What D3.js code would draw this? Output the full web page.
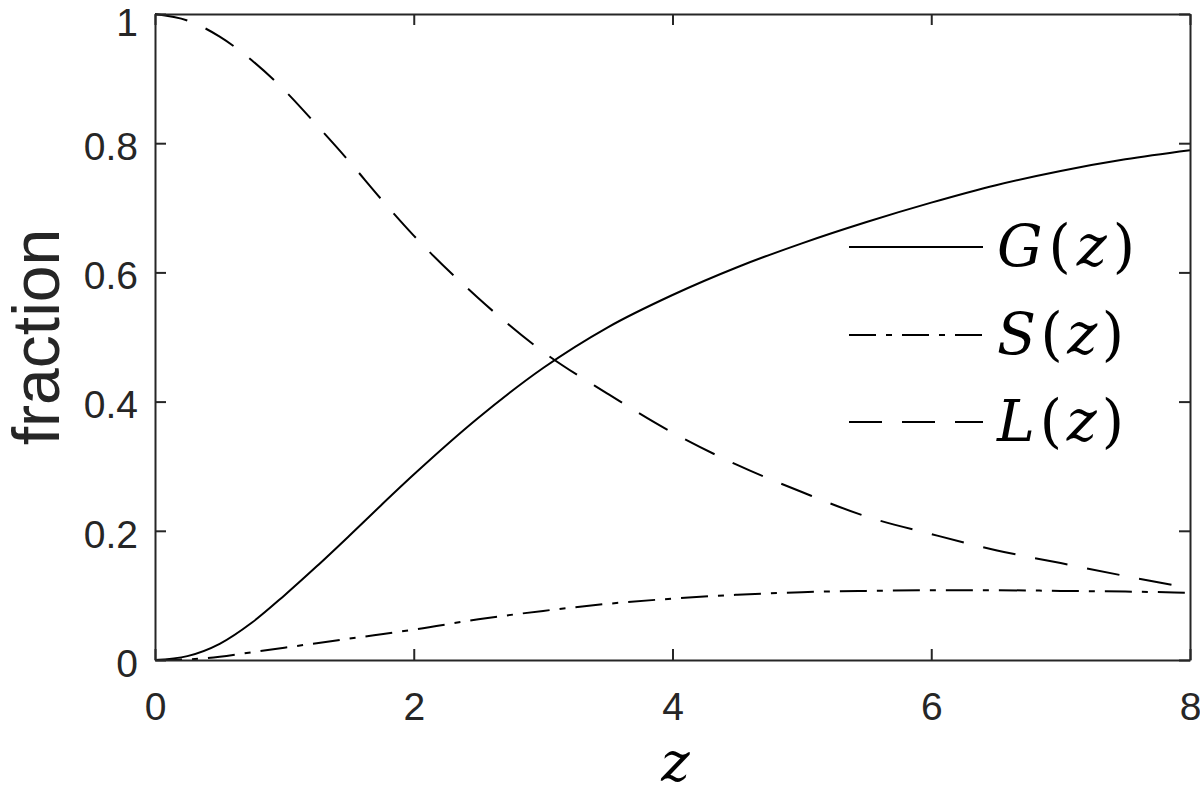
<!DOCTYPE html>
<html>
<head>
<meta charset="utf-8">
<script src="https://cdn.jsdelivr.net/npm/d3@7/dist/d3.min.js"></script>
<style>
  html, body { margin: 0; padding: 0; background: #fff; }
  svg { display: block; }
  .math { font-family: "DejaVu Serif", "Liberation Serif", serif; }
</style>
</head>
<body>
<svg id="chart" width="1200" height="794"></svg>
<script>
// ---- data ----
const zValues = [0, 0.25, 0.5, 0.75, 1, 1.25, 1.5, 1.75, 2, 2.5, 3, 3.5, 4, 4.5, 5, 5.5, 6, 6.5, 7, 7.5, 8];
const gValues = [0, 0.006, 0.025, 0.058, 0.100, 0.145, 0.192, 0.240, 0.287, 0.375, 0.452, 0.515, 0.565, 0.608, 0.645, 0.678, 0.708, 0.735, 0.757, 0.775, 0.789];
const sValues = [0, 0.001, 0.005, 0.012, 0.019, 0.026, 0.033, 0.040, 0.047, 0.063, 0.076, 0.087, 0.095, 0.101, 0.105, 0.107, 0.108, 0.108, 0.107, 0.106, 0.104];
const lValues = [1.000, 0.990, 0.965, 0.928, 0.882, 0.828, 0.772, 0.713, 0.657, 0.560, 0.477, 0.412, 0.352, 0.302, 0.260, 0.222, 0.195, 0.170, 0.150, 0.130, 0.111];
const xTicks = [0, 2, 4, 6, 8];
const yTicks = [0, 0.2, 0.4, 0.6, 0.8, 1];
const yTickLabels = ["0", "0.2", "0.4", "0.6", "0.8", "1"];
const seriesNames = ["G", "S", "L"];

(function () {
  // ---- layout ----
  const svg = d3.select("#chart");
  const mLeft = 155, mRight = 1190, mTop = 14, mBottom = 660;
  const axisColor = "#262626";
  const x = d3.scaleLinear().domain([0, 8]).range([mLeft, mRight]);
  const y = d3.scaleLinear().domain([0, 1]).range([mBottom, mTop]);

  const styles = { G: null, S: "27,10,6,10", L: "33,20" };
  const valuesByName = { G: gValues, S: sValues, L: lValues };

  const line = d3.line().x(d => x(d[0])).y(d => y(d[1])).curve(d3.curveMonotoneX);

  // curves
  seriesNames.forEach(name => {
    svg.append("path")
      .datum(zValues.map((z, i) => [z, valuesByName[name][i]]))
      .attr("d", line)
      .attr("fill", "none")
      .attr("stroke", "#000")
      .attr("stroke-width", 2)
      .attr("stroke-dasharray", styles[name]);
  });

  // axes: box with inward ticks on all four sides
  const tickLen = 11;
  const fontTick = "'Liberation Sans', Arial, Helvetica, sans-serif";

  const gBottom = svg.append("g").attr("transform", `translate(0,${mBottom})`)
    .call(d3.axisBottom(x).tickValues(xTicks).tickSizeInner(-tickLen).tickSizeOuter(0).tickPadding(0).tickFormat(d3.format("d")));
  const gTop = svg.append("g").attr("transform", `translate(0,${mTop})`)
    .call(d3.axisTop(x).tickValues(xTicks).tickSizeInner(-tickLen).tickSizeOuter(0).tickFormat(""));
  const gLeft = svg.append("g").attr("transform", `translate(${mLeft},0)`)
    .call(d3.axisLeft(y).tickValues(yTicks).tickSizeInner(-tickLen).tickSizeOuter(0).tickFormat((d, i) => yTickLabels[i]));
  const gRight = svg.append("g").attr("transform", `translate(${mRight},0)`)
    .call(d3.axisRight(y).tickValues(yTicks).tickSizeInner(-tickLen).tickSizeOuter(0).tickFormat(""));

  [gBottom, gTop, gLeft, gRight].forEach(g => {
    g.select(".domain").attr("stroke", axisColor).attr("stroke-width", 2);
    g.selectAll(".tick line").attr("stroke", axisColor).attr("stroke-width", 2);
  });

  gBottom.selectAll(".tick text")
    .attr("y", 60).attr("dy", 0)
    .attr("fill", axisColor)
    .style("font-family", fontTick)
    .style("font-size", "39px");

  gLeft.selectAll(".tick text")
    .attr("x", -17).attr("dy", (d) => d === 1 ? "0.56em" : "0.42em")
    .attr("fill", axisColor)
    .style("font-family", fontTick)
    .style("font-size", "39px");

  // y label
  svg.append("text")
    .attr("transform", `translate(59,${(mTop + mBottom) / 2}) rotate(-90)`)
    .attr("text-anchor", "middle")
    .attr("fill", axisColor)
    .style("font-family", fontTick)
    .style("font-size", "66px")
    .text("fraction");

  // x label (math italic z)
  svg.append("text")
    .attr("class", "math")
    .attr("x", (mLeft + mRight) / 2 + 3)
    .attr("y", 781)
    .attr("text-anchor", "middle")
    .attr("fill", "#000")
    .style("font-style", "italic")
    .style("font-size", "54px")
    .text("z");

  // legend
  const legendRows = [247, 335, 422];
  seriesNames.forEach((name, i) => {
    const ly = legendRows[i];
    svg.append("line")
      .attr("x1", 849).attr("x2", 983)
      .attr("y1", ly).attr("y2", ly)
      .attr("stroke", "#000")
      .attr("stroke-width", 2)
      .attr("stroke-dasharray", styles[name]);
    const t = svg.append("text")
      .attr("class", "math")
      .attr("x", 997)
      .attr("y", ly + 19)
      .attr("fill", "#000")
      .style("font-size", "57px")
      .attr("textLength", name === "G" ? 138 : 127)
      .attr("lengthAdjust", "spacing");
    t.append("tspan").attr("class", "math").style("font-style", "italic").text(name);
    t.append("tspan").attr("class", "math").text("(");
    t.append("tspan").attr("class", "math").style("font-style", "italic").text("z");
    t.append("tspan").attr("class", "math").text(")");
  });
})();
</script>
</body>
</html>
